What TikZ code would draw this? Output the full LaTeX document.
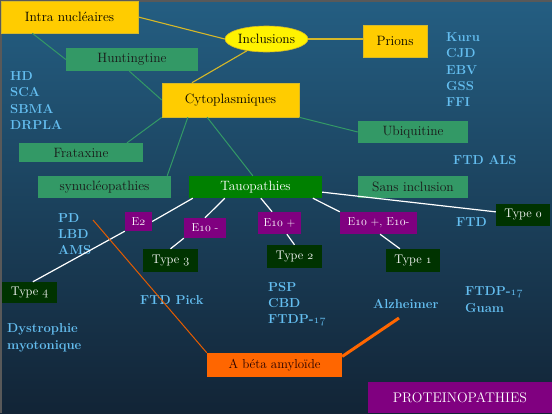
\documentclass[tikz,border=0pt]{standalone}
\usetikzlibrary{shapes.geometric,calc}
\definecolor{bgtop}{RGB}{36,94,130}
\definecolor{bgmid}{RGB}{28,68,98}
\definecolor{bgbot}{RGB}{18,36,54}
\definecolor{ybox}{RGB}{255,204,0}
\definecolor{yline}{RGB}{214,184,40}
\definecolor{gbox}{RGB}{51,153,102}
\definecolor{tbox}{RGB}{0,128,0}
\definecolor{dbox}{RGB}{0,51,0}
\definecolor{pbox}{RGB}{128,0,128}
\definecolor{obox}{RGB}{255,102,0}
\definecolor{btext}{RGB}{100,190,240}
\newcommand\osn[1]{{\usefont{OML}{lmm}{m}{it}#1}}
\newcommand\osnb[1]{{\usefont{OML}{lmm}{b}{it}#1}}
\tikzset{
  lbl/.style={rectangle,inner sep=0pt,font=\fontsize{13.5}{16}\selectfont},
  ybx/.style={lbl,fill=ybox,draw=yline,line width=0.6pt,text=black},
  gbx/.style={lbl,fill=gbox,text=black!90},
  tbx/.style={lbl,fill=tbox,text=white},
  dbx/.style={lbl,fill=dbox,text=white,font=\fontsize{12.5}{15}\selectfont},
  pbx/.style={lbl,fill=pbox,text=white,font=\fontsize{11.5}{14}\selectfont},
  obx/.style={lbl,fill=obox,text=black!85!red,font=\fontsize{13}{15}\selectfont},
  bt/.style={inner sep=0pt,anchor=base west,text=btext,font=\fontsize{13}{15}\selectfont\bfseries},
  yl/.style={draw=yline,line width=1.1pt},
  gl/.style={draw=gbox,line width=1pt},
  wl/.style={draw=white,line width=1.2pt},
  ol/.style={draw=obox!90!black,line width=1pt},
  olt/.style={draw=obox,line width=3pt},
}
\begin{document}
\begin{tikzpicture}[x=1pt,y=-1pt]
\useasboundingbox (0,0) rectangle (552,413);
\shade[top color=bgtop,middle color=bgmid,bottom color=bgbot] (0,0) rectangle (552,413);
\draw[gray!70!black,line width=1.5pt] (0.75,413) -- (0.75,0.75) -- (552,0.75);

% boxes
\node[ybx,minimum width=137pt,minimum height=32pt] (intra) at (69.5,17) {Intra nucléaires};
\node[ellipse,inner sep=0pt,fill=yellow,draw=yline,line width=0.6pt,minimum width=83pt,minimum height=26pt,font=\fontsize{13.5}{16}\selectfont] (incl) at (266.5,39) {Inclusions};
\node[ybx,minimum width=64pt,minimum height=32pt] (prions) at (395,41) {Prions};
\node[gbx,minimum width=132pt,minimum height=23pt] (hunt) at (132,59.5) {Huntingtine};
\node[ybx,minimum width=137pt,minimum height=34pt] (cyto) at (230.5,100) {Cytoplasmiques};
\node[gbx,minimum width=110pt,minimum height=22pt] (ubiq) at (413,132) {Ubiquitine};
\node[gbx,minimum width=124pt,minimum height=19pt] (frat) at (81,152.5) {Frataxine};
\node[gbx,minimum width=133pt,minimum height=22pt] (synuc) at (104.5,187) {synucléopathies};
\node[tbx,minimum width=133pt,minimum height=22pt] (tauo) at (255.5,187) {Tauopathies};
\node[gbx,minimum width=110pt,minimum height=22pt] (sans) at (413,187) {Sans inclusion};
\node[dbx,minimum width=54pt,minimum height=22pt] (type0) at (523,215) {Type \osn{0}};
\node[pbx,minimum width=27pt,minimum height=19pt] (e2) at (138.5,221.5) {E\osn{2}};
\node[pbx,minimum width=42pt,minimum height=20pt] (e10m) at (205,228) {E\osn{10} -};
\node[pbx,minimum width=43pt,minimum height=22pt] (e10p) at (279.5,223) {E\osn{10} +};
\node[pbx,minimum width=77pt,minimum height=22pt] (e10pm) at (378.5,223) {E\osn{10} +, E\osn{10}-};
\node[dbx,minimum width=55pt,minimum height=23pt] (type3) at (170.5,260.5) {Type \osn{3}};
\node[dbx,minimum width=55pt,minimum height=23pt] (type2) at (294.5,256.5) {Type \osn{2}};
\node[dbx,minimum width=54pt,minimum height=23pt] (type1) at (413,260.5) {Type \osn{1}};
\node[dbx,minimum width=55pt,minimum height=21pt] (type4) at (29.5,292.5) {Type \osn{4}};
\node[obx,minimum width=135pt,minimum height=24pt] (abeta) at (274.5,365) {A béta amyloïde};
\node[pbx,minimum width=184pt,minimum height=31pt,font=\fontsize{14}{16}\selectfont] (prot) at (460,397.5) {PROTEINOPATHIES};

% blue texts
\node[bt] (hd) at (10,80) {HD};
\node[bt] (sca) at (10,96.5) {SCA};
\node[bt] (sbma) at (10,113) {SBMA};
\node[bt] (drpla) at (10,129.5) {DRPLA};
\node[bt] (kuru) at (446,41.5) {Kuru};
\node[bt] (cjd) at (446,57.8) {CJD};
\node[bt] (ebv) at (446,74) {EBV};
\node[bt] (gss) at (446,90.3) {GSS};
\node[bt] (ffi) at (446,106.5) {FFI};
\node[bt] (ftdals) at (453,164.5) {FTD ALS};
\node[bt] (pd) at (58,222) {PD};
\node[bt] (lbd) at (58,238.3) {LBD};
\node[bt] (ams) at (58,254.6) {AMS};
\node[bt] (ftd) at (456,226.5) {FTD};
\node[bt] (ftdpick) at (140,304.5) {FTD Pick};
\node[bt] (dys) at (7,332.5) {Dystrophie};
\node[bt] (myo) at (7,349) {myotonique};
\node[bt] (psp) at (268,291) {PSP};
\node[bt] (cbd) at (268,307.3) {CBD};
\node[bt] (ftdp1) at (268,323.6) {FTDP-\osnb{17}};
\node[bt] (alz) at (373,308.5) {Alzheimer};
\node[bt] (ftdp2) at (465,295.5) {FTDP-\osnb{17}};
\node[bt] (guam) at (465,312) {Guam};

% connectors
\draw[yl] (intra.east) -- (incl.west);
\draw[yl] (incl.east) -- (prions.west |- incl.east);
\draw[yl] (incl.211) -- ($(cyto.north west)!0.22!(cyto.north east)$);
\draw[gl] ($(intra.south west)!0.23!(intra.south east)$) -- (hunt.west);
\draw[gl] ($(hunt.south west)!0.48!(hunt.south east)$) -- (cyto.west);
\draw[gl] (cyto.south west) -- ($(frat.north west)!0.87!(frat.north east)$);
\draw[gl] ($(cyto.south west)!0.19!(cyto.south east)$) -- ($(synuc.north west)!0.97!(synuc.north east)$);
\draw[gl] ($(cyto.south west)!0.33!(cyto.south east)$) -- ($(tauo.north west)!0.48!(tauo.north east)$);
\draw[gl] (cyto.south east) -- (ubiq.west);
\draw[wl] ($(tauo.south west)!0.03!(tauo.south east)$) -- (e2.east);
\draw[wl] (e2.south west) -- ($(type4.north west)!0.56!(type4.north east)$);
\draw[wl] ($(tauo.south west)!0.27!(tauo.south east)$) -- (e10m.north);
\draw[wl] (e10m.south west) -- (type3.north);
\draw[wl] ($(tauo.south west)!0.54!(tauo.south east)$) -- ($(e10p.north west)!0.33!(e10p.north east)$);
\draw[wl] ($(e10p.south west)!0.67!(e10p.south east)$) -- (type2.north);
\draw[wl] ($(tauo.south west)!0.93!(tauo.south east)$) -- (e10pm.north west);
\draw[wl] ($(e10pm.south west)!0.52!(e10pm.south east)$) -- ($(type1.north west)!0.26!(type1.north east)$);
\draw[wl] ($(tauo.north east)!0.73!(tauo.south east)$) -- ($(type0.north west)!0.36!(type0.south west)$);
\coordinate (ofree) at (93,220);
\coordinate (alzend) at (399,318);
\draw[ol] (ofree) -- (abeta.north west);
\draw[olt] ($(abeta.north east)!0.15!(abeta.south east)$) -- (alzend);
\end{tikzpicture}
\end{document}
